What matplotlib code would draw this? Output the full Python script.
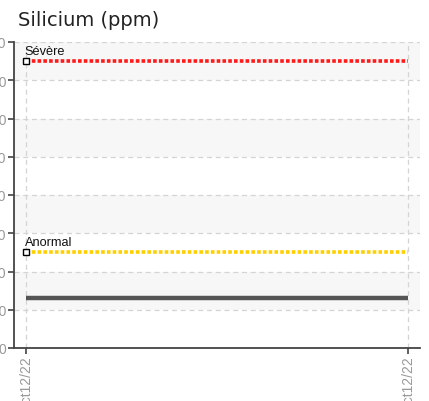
import matplotlib
matplotlib.use("Agg")
import matplotlib.pyplot as plt

# data
dates = ["Oct12/22", "Oct12/22"]
silicium = [13, 13]
seuils = {"Sévère": 75, "Anormal": 25}
seuil_colors = {"Sévère": "#ff1a1a", "Anormal": "#ffd000"}
y_ticks = [0, 10, 20, 30, 40, 50, 60, 70, 80]

W, H = 429, 402
fig = plt.figure(figsize=(W / 100, H / 100), dpi=100)
ax = fig.add_axes([14 / W, (H - 349) / H, (420 - 14) / W, (349 - 43) / H])

xs = list(range(len(dates)))
span = xs[-1] - xs[0]
pad = span * 12 / 382
ax.set_xlim(xs[0] - pad, xs[-1] + pad)
ax.set_ylim(y_ticks[0], y_ticks[-1])

# alternating background bands
for i in range(1, len(y_ticks) - 1, 2):
    ax.axhspan(y_ticks[i], y_ticks[i + 1], color="#f7f7f7", zorder=0, lw=0)

ax.set_yticks(y_ticks)
ax.set_xticks(xs)
ax.set_xticklabels(dates, rotation=90)
ax.grid(True, color="#d4d4d4", linestyle=(0, (4, 3)), linewidth=0.9)
ax.set_axisbelow(True)

for sp in ("top", "right"):
    ax.spines[sp].set_visible(False)
ax.spines["left"].set_color("#444444")
ax.spines["bottom"].set_color("#444444")
ax.spines["left"].set_linewidth(1.3)
ax.spines["bottom"].set_linewidth(1.3)
ax.tick_params(axis="both", colors="#444444", length=4, width=1.2,
               labelcolor="#999999", labelsize=10, pad=1.5)
for lab in ax.get_xticklabels() + ax.get_yticklabels():
    lab.set_family(["Liberation Sans", "DejaVu Sans"])

# threshold lines
for name, val in seuils.items():
    ax.plot(xs, [val] * len(xs), color=seuil_colors[name], lw=2.6,
            linestyle=(0, (1, 0.6)), dash_capstyle="butt", zorder=3)
    ax.plot([xs[0]], [val], marker="s", ms=4, mfc="white", mec="black",
            mew=1, zorder=4)
    ax.annotate(name, (xs[0], val), xytext=(-1, 3), textcoords="offset points",
                fontsize=9.2, color="#111111", ha="left", va="bottom",
                family=["Liberation Sans", "DejaVu Sans"])

ax.plot(xs, silicium, color="#555555", lw=3.2, solid_capstyle="butt", zorder=3)

fig.text(18 / W, 1 - 26 / H, "Silicium (ppm)", fontsize=14, color="#222222",
         ha="left", va="baseline")

fig.savefig("out.png", dpi=100)
